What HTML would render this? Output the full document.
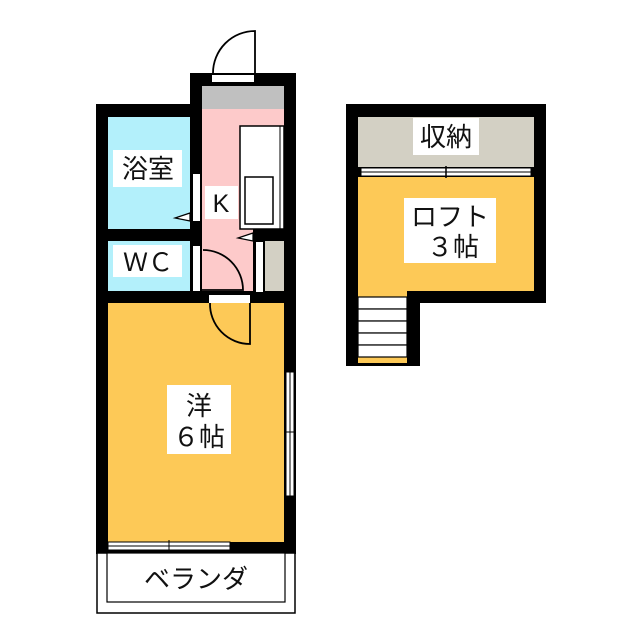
<!DOCTYPE html>
<html><head><meta charset="utf-8"><style>
html,body{margin:0;padding:0;background:#fff}
svg{display:block}
text{font-family:"Liberation Sans","Noto Sans CJK JP",sans-serif;fill:#111}
</style></head><body>
<svg width="640" height="640" viewBox="0 0 640 640" xmlns="http://www.w3.org/2000/svg">
<rect x="96" y="104" width="106" height="450" fill="#000"/>
<rect x="190" y="73" width="106" height="481" fill="#000"/>
<rect x="108" y="117" width="82" height="112" fill="#b3f0fb"/>
<rect x="108" y="241" width="82" height="50" fill="#b3f0fb"/>
<rect x="202" y="86" width="82" height="23" fill="#c0c0c0"/>
<rect x="202" y="109" width="82" height="182" fill="#fdcaca"/>
<rect x="253" y="229" width="31" height="12" fill="#000"/>
<rect x="265" y="241" width="19" height="50" fill="#d3d0c4"/>
<rect x="253" y="241" width="12" height="50" fill="#000"/>
<rect x="108" y="303" width="176" height="239" fill="#fdc957"/>
<rect x="240" y="126" width="44" height="103" fill="#fff" stroke="#000" stroke-width="1.5"/>
<line x1="280" y1="126" x2="280" y2="229" stroke="#000" stroke-width="1"/>
<rect x="245" y="177" width="28" height="47" fill="#fff" stroke="#000" stroke-width="1.5"/>
<rect x="193" y="174" width="7" height="47" fill="#fff"/>
<rect x="193" y="246" width="7" height="45" fill="#fff"/>
<rect x="256" y="242" width="7" height="50" fill="#fff"/>
<polygon points="190,213 175,218 190,221" fill="#fff" stroke="#000" stroke-width="1.2"/>
<polygon points="253,233 238,238 253,241" fill="#fff" stroke="#000" stroke-width="1.2"/>
<path d="M203,250 A40,40 0 0 1 243,290 L202,290" fill="none" stroke="#000" stroke-width="1.8"/>
<rect x="212" y="75" width="42" height="7" fill="#fff"/>
<path d="M255,74 L255,31 A42,42 0 0 0 213,73" fill="none" stroke="#000" stroke-width="1.8"/>
<rect x="209" y="295" width="41" height="8" fill="#fff"/>
<path d="M210,303 A40,40 0 0 0 250,344 L250,303" fill="none" stroke="#000" stroke-width="1.8"/>
<rect x="286" y="372" width="8" height="124" fill="#fff" stroke="#000" stroke-width="1"/>
<line x1="290" y1="372" x2="290" y2="496" stroke="#000" stroke-width="1"/>
<line x1="284" y1="432" x2="296" y2="432" stroke="#000" stroke-width="1"/>
<rect x="108" y="542" width="122" height="8" fill="#fff" stroke="#000" stroke-width="1"/>
<line x1="108" y1="546" x2="230" y2="546" stroke="#000" stroke-width="1"/>
<line x1="169" y1="540" x2="169" y2="552" stroke="#000" stroke-width="1"/>
<rect x="97" y="553" width="198" height="60" fill="#fff" stroke="#000" stroke-width="1.5"/>
<rect x="107" y="553" width="178" height="49" fill="#fff" stroke="#000" stroke-width="1.2"/>
<rect x="346" y="104" width="200" height="199" fill="#000"/>
<rect x="346" y="303" width="74" height="63" fill="#000"/>
<rect x="358" y="117" width="176" height="50" fill="#d3d0c4"/>
<rect x="358" y="177" width="176" height="114" fill="#fdc957"/>
<rect x="358" y="291" width="49" height="72" fill="#fdc957"/>
<rect x="361" y="168" width="170" height="8" fill="#fff" stroke="#000" stroke-width="1"/>
<line x1="361" y1="172" x2="531" y2="172" stroke="#000" stroke-width="1"/>
<line x1="446" y1="166" x2="446" y2="178" stroke="#000" stroke-width="1.5"/>
<g fill="#fff" stroke="#000" stroke-width="1.2">
<rect x="358" y="297" width="49" height="12"/>
<rect x="358" y="309" width="49" height="12"/>
<rect x="358" y="321" width="49" height="12"/>
<rect x="358" y="333" width="49" height="12"/>
<rect x="358" y="345" width="49" height="12"/>
</g>
<rect x="113" y="150" width="69" height="37" fill="#fff"/>
<text x="148" y="178" font-size="26" text-anchor="middle">浴室</text>
<rect x="205" y="186" width="33" height="33" fill="#fff"/>
<text x="221" y="212" font-size="25" text-anchor="middle">K</text>
<rect x="113" y="245" width="69" height="32" fill="#fff"/>
<text x="148" y="271" font-size="25" text-anchor="middle">ＷＣ</text>
<rect x="167" y="385" width="64" height="69" fill="#fff"/>
<text x="199" y="415" font-size="26" text-anchor="middle">洋</text>
<text x="199" y="446" font-size="26" text-anchor="middle">６帖</text>
<rect x="413" y="118" width="66" height="37" fill="#fff"/>
<text x="446" y="146" font-size="26" text-anchor="middle">収納</text>
<rect x="404" y="198" width="92" height="65" fill="#fff"/>
<text x="450" y="226" font-size="26" text-anchor="middle">ロフト</text>
<text x="453" y="256" font-size="26" text-anchor="middle">３帖</text>
<text x="196" y="588" font-size="26" text-anchor="middle">ベランダ</text>
</svg>
</body></html>
